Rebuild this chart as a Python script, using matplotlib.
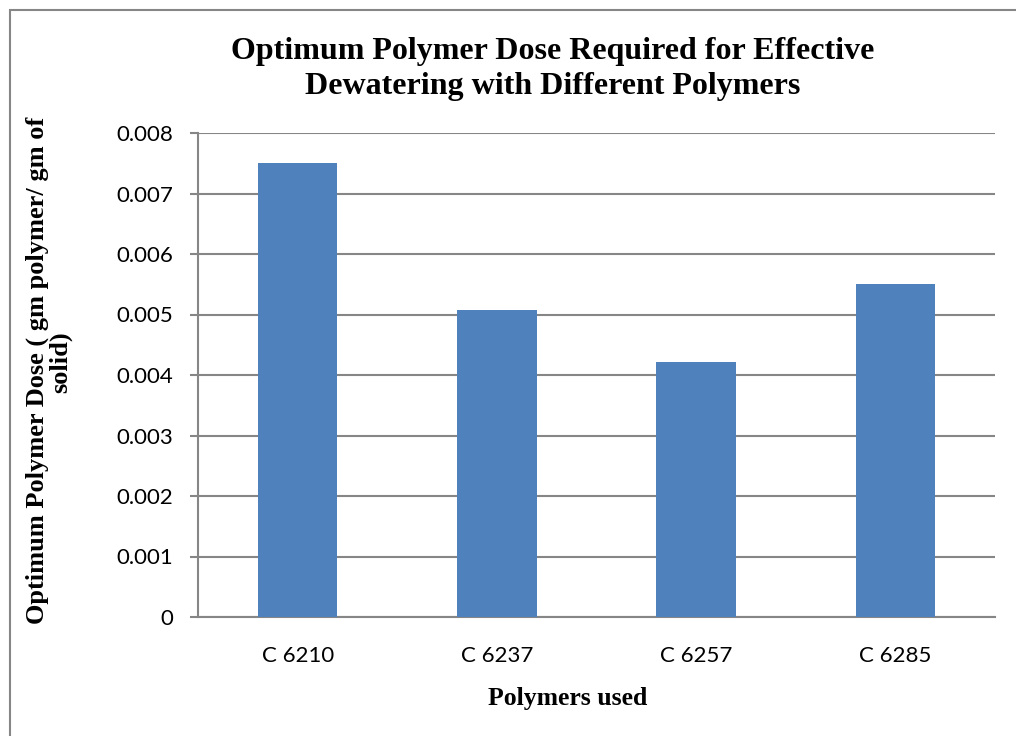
import matplotlib.pyplot as plt
from matplotlib.patches import Rectangle

# Dosis óptima de polímero por tipo de polímero
polimeros = ["C 6210", "C 6237", "C 6257", "C 6285"]
dosis = [0.0075, 0.00507, 0.00422, 0.00551]
marcas_y = [0, 0.001, 0.002, 0.003, 0.004, 0.005, 0.006, 0.007, 0.008]

gris = "#868686"
serif = "Liberation Serif"
sans = "Lato"

fig = plt.figure(figsize=(10.16, 7.36), dpi=100)
ax = fig.add_axes([198 / 1016, 1 - 617 / 736, 797 / 1016, 484 / 736])

ax.bar(range(len(polimeros)), dosis, width=0.4, color="#4F81BD", zorder=3)

ax.set_xlim(-0.5, len(polimeros) - 0.5)
ax.set_ylim(0, 0.008)
ax.set_yticks(marcas_y)
ax.set_yticklabels([f"{v:g}" if v == 0 else f"{v:.3f}" for v in marcas_y],
                   fontfamily=sans, fontsize=16)
ax.set_xticks(range(len(polimeros)))
ax.set_xticklabels(polimeros, fontfamily=sans, fontsize=16)

ax.yaxis.grid(True, color=gris, linewidth=1.5, zorder=0)
ax.set_axisbelow(True)
for lado in ["top", "right"]:
    ax.spines[lado].set_visible(False)
for lado in ["left", "bottom"]:
    ax.spines[lado].set_color(gris)
    ax.spines[lado].set_linewidth(1.5)
ax.tick_params(axis="y", length=6, width=1.5, color=gris, pad=12)
ax.tick_params(axis="x", length=0, pad=21)

fig.text(553 / 1016, 1 - 69 / 736,
         "Optimum Polymer Dose Required for Effective\nDewatering with Different Polymers",
         ha="center", va="center", fontfamily=serif, fontweight="bold",
         fontsize=23, linespacing=1.3)
fig.text(568 / 1016, 1 - 698 / 736, "Polymers used", ha="center", va="center",
         fontfamily=serif, fontweight="bold", fontsize=18.5)

# título del eje y en dos renglones
estilo_y = dict(ha="center", va="center", rotation=90, fontfamily=serif,
                fontweight="bold", fontsize=19)
fig.text(37 / 1016, 1 - 370 / 736,
         "Optimum Polymer Dose ( gm polymer/ gm of", **estilo_y)
fig.text(61 / 1016, 1 - 362 / 736, "solid)", **estilo_y)

# marco del gráfico
fig.patches.append(Rectangle((10 / 1016, -0.05), 1.1, 1 - 10 / 736 + 0.05,
                             transform=fig.transFigure, fill=False,
                             edgecolor=gris, linewidth=1.5))

fig.savefig("out.png", dpi=100)
